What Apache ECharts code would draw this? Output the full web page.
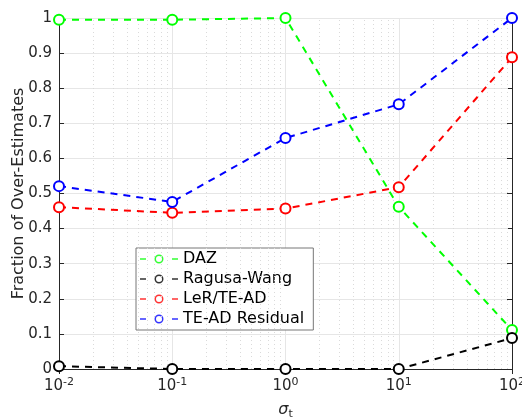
<!DOCTYPE html>
<html>
<head>
<meta charset="utf-8">
<script src="https://cdn.jsdelivr.net/npm/echarts@6/dist/echarts.min.js"></script>
<style>html,body{margin:0;padding:0;background:#fff}#main{width:522px;height:419px}</style>
</head>
<body>
<div id="main"></div>
<script>
// sigma_t values (x) and fraction of over-estimates per method
var sigmaT = [0.01, 0.1, 1, 10, 100];
var daz = [0.995, 0.995, 1.0, 0.462, 0.111];
var ragusaWang = [0.008, 0.0, 0.0, 0.0, 0.088];
var lerTeAd = [0.461, 0.445, 0.457, 0.518, 0.888];
var teAdResidual = [0.521, 0.476, 0.658, 0.754, 1.0];
var seriesNames = ['DAZ', 'Ragusa-Wang', 'LeR/TE-AD', 'TE-AD Residual'];
var seriesColors = ['#00ff00', '#000000', '#ff0000', '#0000ff'];
var minorX = [];
[0.01, 0.1, 1, 10].forEach(function (d) {
    for (var k = 2; k <= 9; k++) minorX.push(+(d * k).toPrecision(3));
});

var axisCol = '#262626';
var font = 'DejaVu Sans';
// legend glyph: short dash, open circle, short dash
var legendIcon = 'path://M0,3.7h6v1.6H0z M32,3.7h6v1.6h-6z ' +
    'M19,0A4.5,4.5 0 1,1 18.99,0z M19,1.5A3,3 0 1,0 19.01,1.5z';

function pairs(ys) {
    return sigmaT.map(function (x, i) { return [x, ys[i]]; });
}
function mk(name, ys, color) {
    return {
        name: name,
        type: 'line',
        data: pairs(ys),
        symbol: 'emptyCircle',
        symbolSize: 10,
        showAllSymbol: true,
        lineStyle: { color: color, width: 2, type: [7, 6] },
        itemStyle: { color: color, borderColor: color, borderWidth: 2 },
        z: 5
    };
}
// empty scatter entries that only feed the legend its plain path icon
function legendTwin(name, color) {
    return { name: name + ' ', type: 'scatter', data: [], itemStyle: { color: color } };
}

var myChart = echarts.init(document.getElementById('main'));
var option = {
    animation: false,
    backgroundColor: '#fff',
    textStyle: { fontFamily: font },
    grid: { left: 59, right: 10, top: 18, bottom: 50, outerBoundsMode: 'none', containLabel: false },
    legend: {
        orient: 'vertical',
        left: 136,
        top: 248,
        backgroundColor: '#fff',
        borderColor: '#777',
        borderWidth: 1,
        borderRadius: 0,
        padding: [1, 4, 1, 4],
        itemGap: 0,
        itemWidth: 38,
        itemHeight: 9,
        icon: legendIcon,
        selectedMode: false,
        textStyle: { fontSize: 16, lineHeight: 20, color: '#000', fontFamily: font },
        data: seriesNames.map(function (n) { return n + ' '; })
    },
    xAxis: [{
        type: 'log',
        logBase: 10,
        min: 0.01,
        max: 100,
        name: '{s|σ}{sub|t}',
        nameLocation: 'middle',
        nameGap: 31,
        nameMoveOverlap: false,
        nameTextStyle: {
            rich: {
                s: { fontSize: 16, color: axisCol, fontFamily: font, fontStyle: 'italic' },
                sub: { fontSize: 11, color: axisCol, fontFamily: font, verticalAlign: 'bottom', padding: [9, 0, 0, 0] }
            }
        },
        axisLine: { lineStyle: { color: axisCol, width: 1 } },
        axisTick: { inside: true, length: 5, lineStyle: { color: axisCol } },
        splitLine: { show: true, lineStyle: { color: '#e6e6e6' } },
        axisLabel: {
            margin: 8,
            color: axisCol,
            fontSize: 15,
            formatter: function (v) {
                return '10{sup|' + Math.round(Math.log10(v)) + '}';
            },
            rich: {
                sup: { fontSize: 11, color: axisCol, verticalAlign: 'top', padding: [0, 0, 8, 0] }
            }
        }
    }, {
        type: 'log',
        logBase: 10,
        min: 0.01,
        max: 100,
        position: 'top',
        axisLine: { show: true, lineStyle: { color: axisCol, width: 1 } },
        axisTick: { inside: true, length: 5, lineStyle: { color: axisCol } },
        axisLabel: { show: false },
        splitLine: { show: false }
    }],
    yAxis: [{
        type: 'value',
        min: 0,
        max: 1,
        interval: 0.1,
        name: 'Fraction of Over-Estimates',
        nameLocation: 'middle',
        nameGap: 32,
        nameMoveOverlap: false,
        nameTextStyle: { fontSize: 16, color: axisCol },
        axisLine: { show: true, lineStyle: { color: axisCol, width: 1 } },
        axisTick: { show: true, inside: true, length: 5, lineStyle: { color: axisCol } },
        splitLine: { show: true, lineStyle: { color: '#e6e6e6' } },
        axisLabel: {
            color: axisCol,
            fontSize: 15,
            margin: 7,
            formatter: function (v) { return +v.toFixed(1) + ''; }
        }
    }, {
        type: 'value',
        min: 0,
        max: 1,
        interval: 0.1,
        position: 'right',
        axisLine: { show: true, lineStyle: { color: axisCol, width: 1 } },
        axisTick: { show: true, inside: true, length: 5, lineStyle: { color: axisCol } },
        axisLabel: { show: false },
        splitLine: { show: false }
    }],
    series: [
        {
            name: 'minor',
            type: 'line',
            data: [],
            silent: true,
            z: 1,
            markLine: {
                silent: true,
                symbol: 'none',
                label: { show: false },
                lineStyle: { color: '#dadada', type: [1, 3], width: 1 },
                data: minorX.map(function (x) { return { xAxis: x }; })
            }
        }
    ].concat(seriesNames.map(function (n, i) {
        return mk(n, [daz, ragusaWang, lerTeAd, teAdResidual][i], seriesColors[i]);
    })).concat(seriesNames.map(function (n, i) {
        return legendTwin(n, seriesColors[i]);
    }))
};
myChart.setOption(option);
</script>
</body>
</html>
